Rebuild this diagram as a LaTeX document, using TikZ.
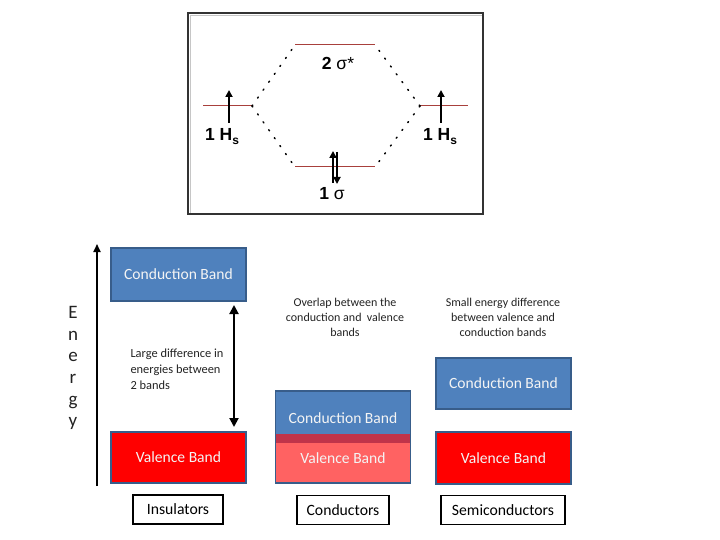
\documentclass[tikz,border=0pt]{standalone}
\usepackage{fontspec}
\setmainfont{Carlito}
\newfontfamily\arialf{Liberation Sans}
\usetikzlibrary{arrows.meta}
\definecolor{cbblue}{HTML}{4F81BD}
\definecolor{bandedge}{HTML}{385D8A}
\definecolor{vbred}{HTML}{FF0000}
\definecolor{vblight}{HTML}{FF6262}
\definecolor{overlapred}{HTML}{C0344A}
\definecolor{levelred}{HTML}{A8403C}
\definecolor{txtgray}{HTML}{222222}
\definecolor{bandtxt}{HTML}{F4F4F4}
\tikzset{
  band/.style={draw=bandedge, line width=1.2pt, minimum width=135pt, inner sep=0pt, text=bandtxt, font=\fontsize{15.6}{17}\selectfont},
  labelbox/.style={draw=black, line width=1.3pt, fill=white, minimum height=29pt, inner sep=0pt, font=\fontsize{15.7}{17}\selectfont},
  note/.style={align=center, text=txtgray, font=\fontsize{12}{15}\selectfont},
  level/.style={draw=levelred, line width=1pt},
  dots/.style={line width=1.5pt, dash pattern=on 1.2pt off 8.5pt, line cap=round},
  spin/.style={line width=1.8pt, -{Triangle[width=7pt,length=7pt]}},
  eaxis/.style={line width=1.8pt, -{Triangle[width=7pt,length=8pt]}},
  gaparrow/.style={line width=2pt, {Triangle[width=9pt,length=9pt]}-{Triangle[width=9pt,length=9pt]}},
  mo/.style={font=\arialf\bfseries\fontsize{17.5}{19}\selectfont, inner sep=0pt}
}
\begin{document}
\begin{tikzpicture}[x=1pt,y=-1pt]
\useasboundingbox (0,0) rectangle (720,540);
% ---------- top MO diagram ----------
\node[draw=none, minimum width=295pt, minimum height=201pt, inner sep=0pt] (frame) at (335.5,113.5) {};
\draw[gray!45, line width=1pt] (190.5,213) -- (190.5,15.5) -- (482,15.5);
\draw[black!80, line width=2pt] (frame.north west) rectangle (frame.south east);
\coordinate (hla) at (203,106); \coordinate (hlb) at (252,106);
\coordinate (hra) at (420,106); \coordinate (hrb) at (468,106);
\coordinate (sua) at (295,45); \coordinate (sub) at (375,45);
\coordinate (sla) at (295,167); \coordinate (slb) at (375,167);
\draw[level] (hla) -- (hlb);
\draw[level] (hra) -- (hrb);
\draw[level] (sua) -- (sub);
\draw[level] (sla) -- (slb);
\draw[dots] (hlb) -- (sua);
\draw[dots] (hlb) -- (sla);
\draw[dots] (hra) -- (sub);
\draw[dots] (hra) -- (slb);
\coordinate (la1) at (229,123); \coordinate (la2) at (229,90);
\coordinate (ra1) at (441,123); \coordinate (ra2) at (441,90);
\coordinate (ba1) at (333,183); \coordinate (ba2) at (333,151);
\coordinate (bb1) at (337,152); \coordinate (bb2) at (337,184);
\draw[spin] (la1) -- (la2);
\draw[spin] (ra1) -- (ra2);
\draw[spin] (ba1) -- (ba2);
\draw[spin] (bb1) -- (bb2);
\node[mo] (sstar) at (338,63) {2 {\mdseries σ*}};
\node[mo] (hleft) at (222,137) {1 H\raisebox{-4pt}{\fontsize{12}{12}\selectfont s}};
\node[mo] (hright) at (440,137) {1 H\raisebox{-4pt}{\fontsize{12}{12}\selectfont s}};
\node[mo] (sig) at (332,194) {1 {\mdseries σ}};
% ---------- bottom band diagrams ----------
\coordinate (ebot) at (97,486); \coordinate (etop) at (97,244);
\draw[eaxis] (ebot) -- (etop);
\node[align=center, text=txtgray, font=\fontsize{19}{21.7}\selectfont] (energy) at (73,368) {E\\n\\e\\r\\g\\y};
% Insulators
\node[band, fill=cbblue, minimum height=53pt] (icb) at (178.5,274.5) {Conduction Band};
\node[band, fill=vbred, minimum height=51pt] (ivb) at (178.5,457.5) {Valence Band};
\coordinate (g1) at (234,305); \coordinate (g2) at (234,427);
\draw[gaparrow] (g1) -- (g2);
\node[align=left, anchor=west, text=txtgray, font=\fontsize{12.4}{16}\selectfont] (inote) at (127,369) {Large difference in\\energies between\\2 bands};
\node[labelbox, minimum width=90pt] (ilab) at (178,509.5) {Insulators};
% Conductors
\fill[vblight] (276,443) rectangle (410,483);
\fill[overlapred] (276,434) rectangle (410,443);
\fill[cbblue] (276,391) rectangle (410,434);
\node[band, minimum height=92pt] (cband) at (343,437) {};
\node[text=bandtxt, font=\fontsize{15.6}{17}\selectfont] (ccbt) at (343,418) {Conduction Band};
\node[text=bandtxt, font=\fontsize{15.6}{17}\selectfont] (cvbt) at (343,458) {Valence Band};
\node[note] (cnote) at (345,317) {Overlap between the\\conduction and\ \ valence\\bands};
\node[labelbox, minimum width=92pt] (clab) at (343,510) {Conductors};
% Semiconductors
\node[band, fill=cbblue, minimum height=51pt] (scb) at (503.5,383.5) {Conduction Band};
\node[band, fill=vbred, minimum height=52pt] (svb) at (503.5,458) {Valence Band};
\node[note] (snote) at (503,317) {Small energy difference\\between valence and\\conduction bands};
\node[labelbox, minimum width=124pt] (slab) at (503,510) {Semiconductors};
\end{tikzpicture}
\end{document}
